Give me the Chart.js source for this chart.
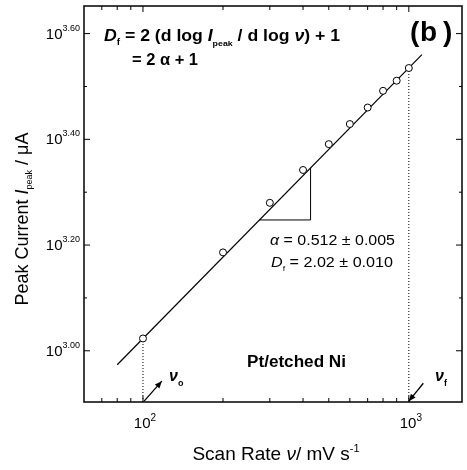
<!DOCTYPE html>
<html>
<head>
<meta charset="utf-8">
<script src="https://cdn.jsdelivr.net/npm/chart.js@4.4.1/dist/chart.umd.min.js"></script>
<style>
  html, body { margin: 0; padding: 0; background: #fff; }
  canvas { display: block; }
</style>
</head>
<body>
<canvas id="chart" width="467" height="470"></canvas>
<script>
// 測定値 (scan rate mV/s, peak current μA)
const scanRate = [100, 200, 300, 400, 500, 600, 700, 800, 900, 1000]
const peakCurrent = [1055, 1535, 1905, 2198, 2460, 2685, 2885, 3103, 3243, 3427]

// fitted line, slope triangle
const fitRate = [80, 1120]
const fitCurrent = [941, 3634]
const slopeRate = [274, 427, 427]
const slopeCurrent = [1768, 1768, 2218]

// dotted guides down to the axis (ν0, νf)
const guideRate = [100, 1000]
const guideCurrent = [1055, 3427]

// axis ranges and ticks
const xMin = 60, xMax = 1585
const yMin = 800, yMax = 4490
const xMajor = [100, 1000]
const xMajorLabels = ['2', '3']
const xMinor = [70, 80, 90, 200, 300, 400, 500, 600, 700, 800, 900]
const yMajorExp = [3.0, 3.2, 3.4, 3.6]
const yMajorLabels = ['3.00', '3.20', '3.40', '3.60']
const yMinorExp = [3.1, 3.3, 3.5]

const F = '"Liberation Sans", Arial, sans-serif'

const pts = (xs, ys) => xs.map((v, i) => ({ x: v, y: ys[i] }))

// 複数フォントのテキストを並べて描く (width指定で横に伸ばす)
function rich(ctx, x, y, segs, align, width) {
	let w = 0
	segs.forEach(s => { ctx.font = s.f; s.w = ctx.measureText(s.t).width; w += s.w })
	const k = width ? width / w : 1
	let cx = align === 'center' ? x - w * k / 2 : align === 'right' ? x - w * k : x
	segs.forEach(s => {
		ctx.font = s.f
		ctx.save()
		ctx.translate(cx, y + (s.dy || 0))
		ctx.scale(k, 1)
		ctx.fillText(s.t, 0, 0)
		ctx.restore()
		cx += s.w * k
	})
}

function arrow(ctx, x1, y1, x2, y2) {
	ctx.beginPath()
	ctx.moveTo(x1, y1)
	ctx.lineTo(x2, y2)
	ctx.stroke()
	const ang = Math.atan2(y2 - y1, x2 - x1)
	const L = 7, W = 3
	ctx.beginPath()
	ctx.moveTo(x2, y2)
	ctx.lineTo(x2 - L * Math.cos(ang) + W * Math.sin(ang), y2 - L * Math.sin(ang) - W * Math.cos(ang))
	ctx.lineTo(x2 - L * Math.cos(ang) - W * Math.sin(ang), y2 - L * Math.sin(ang) + W * Math.cos(ang))
	ctx.closePath()
	ctx.fill()
}

const framePlugin = {
	id: 'frame',
	afterDatasetsDraw(chart) {
		const { ctx, chartArea: a, scales: { x, y } } = chart
		ctx.save()
		ctx.strokeStyle = '#000'
		ctx.fillStyle = '#000'

		// 枠
		ctx.lineWidth = 1.5
		ctx.strokeRect(a.left, a.top, a.right - a.left, a.bottom - a.top)

		// 内向きの目盛り
		ctx.lineWidth = 1
		const vt = (px, len) => {
			ctx.beginPath()
			ctx.moveTo(px, a.bottom); ctx.lineTo(px, a.bottom - len)
			ctx.moveTo(px, a.top); ctx.lineTo(px, a.top + len)
			ctx.stroke()
		}
		const ht = (py, len) => {
			ctx.beginPath()
			ctx.moveTo(a.left, py); ctx.lineTo(a.left + len, py)
			ctx.moveTo(a.right, py); ctx.lineTo(a.right - len, py)
			ctx.stroke()
		}
		xMajor.forEach(v => vt(x.getPixelForValue(v), 6))
		xMinor.forEach(v => vt(x.getPixelForValue(v), 4))
		yMajorExp.forEach(e => ht(y.getPixelForValue(Math.pow(10, e)), 6))
		yMinorExp.forEach(e => ht(y.getPixelForValue(Math.pow(10, e)), 3))

		// 目盛りラベル
		ctx.textBaseline = 'alphabetic'
		xMajor.forEach((v, i) => {
			rich(ctx, x.getPixelForValue(v) + 2, a.bottom + 26, [
				{ t: '10', f: '15px ' + F },
				{ t: xMajorLabels[i], f: '10px ' + F, dy: -7 }
			], 'center')
		})
		yMajorExp.forEach((e, i) => {
			rich(ctx, a.left - 4, y.getPixelForValue(Math.pow(10, e)) + 5, [
				{ t: '10', f: '15px ' + F },
				{ t: yMajorLabels[i], f: '9px ' + F, dy: -8 }
			], 'right')
		})

		// 軸タイトル
		rich(ctx, 276, 460, [
			{ t: 'Scan Rate ', f: '19px ' + F },
			{ t: 'ν', f: 'italic 19px ' + F },
			{ t: '/ mV s', f: '19px ' + F },
			{ t: '-1', f: '11px ' + F, dy: -8 }
		], 'center')
		ctx.save()
		ctx.translate(28, 219)
		ctx.rotate(-Math.PI / 2)
		rich(ctx, 0, 0, [
			{ t: 'Peak Current ', f: '18px ' + F },
			{ t: 'I', f: 'italic 18px ' + F },
			{ t: 'peak', f: '9px ' + F, dy: 4 },
			{ t: ' / μA', f: '18px ' + F }
		], 'center')
		ctx.restore()

		// 式
		rich(ctx, 104, 41, [
			{ t: 'D', f: 'italic bold 16px ' + F },
			{ t: 'f', f: 'bold 9px ' + F, dy: 4 },
			{ t: ' = 2 (d log ', f: 'bold 16px ' + F },
			{ t: 'I', f: 'italic bold 16px ' + F },
			{ t: 'peak', f: 'bold 8px ' + F, dy: 5 },
			{ t: ' / d log ', f: 'bold 16px ' + F },
			{ t: 'ν', f: 'italic bold 16px ' + F },
			{ t: ') + 1', f: 'bold 16px ' + F }
		], 'left', 236)
		rich(ctx, 132, 65, [
			{ t: '= 2 α + 1', f: 'bold 16px ' + F }
		], 'left', 66)

		// (b)
		ctx.font = 'bold 28px ' + F
		ctx.fillText('(', 410, 41)
		ctx.fillText('b', 420, 41)
		ctx.fillText(')', 443, 41)

		// 傾き
		rich(ctx, 270, 245, [
			{ t: 'α', f: 'italic 15px ' + F },
			{ t: ' = 0.512 ± 0.005', f: '15px ' + F }
		], 'left', 125)
		rich(ctx, 271, 267, [
			{ t: 'D', f: 'italic 15px ' + F },
			{ t: 'f', f: '8px ' + F, dy: 4 },
			{ t: ' = 2.02 ± 0.010', f: '15px ' + F }
		], 'left', 122)

		ctx.font = 'bold 16px ' + F
		rich(ctx, 247, 367, [
			{ t: 'Pt/etched Ni', f: 'bold 16px ' + F }
		], 'left', 99)

		// ν0, νf の矢印
		ctx.lineWidth = 1.3
		arrow(ctx, x.getPixelForValue(101), y.getPixelForValue(803), x.getPixelForValue(117.7), y.getPixelForValue(876))
		arrow(ctx, x.getPixelForValue(1134), y.getPixelForValue(868), x.getPixelForValue(1000), y.getPixelForValue(803))
		rich(ctx, 169, 381, [
			{ t: 'ν', f: 'italic bold 16px ' + F },
			{ t: 'o', f: 'bold 9px ' + F, dy: 5 }
		])
		rich(ctx, 435, 381, [
			{ t: 'ν', f: 'italic bold 16px ' + F },
			{ t: 'f', f: 'bold 9px ' + F, dy: 5 }
		])

		ctx.restore()
	}
}

const chart = new Chart(document.getElementById('chart'), {
	type: 'scatter',
	data: {
		datasets: [
			{
				data: pts(scanRate, peakCurrent),
				pointStyle: 'circle',
				pointRadius: 3.5,
				pointBackgroundColor: '#fff',
				pointBorderColor: '#000',
				pointBorderWidth: 1,
				showLine: false
			},
			{
				data: pts(fitRate, fitCurrent),
				showLine: true,
				borderColor: '#000',
				borderWidth: 1.2,
				pointRadius: 0
			},
			{
				data: pts(slopeRate, slopeCurrent),
				showLine: true,
				borderColor: '#000',
				borderWidth: 1,
				pointRadius: 0
			},
			{
				data: [{ x: guideRate[0], y: yMin }, { x: guideRate[0], y: guideCurrent[0] }],
				showLine: true,
				borderColor: '#000',
				borderWidth: 1,
				borderDash: [1, 2],
				pointRadius: 0
			},
			{
				data: [{ x: guideRate[1], y: yMin }, { x: guideRate[1], y: guideCurrent[1] }],
				showLine: true,
				borderColor: '#000',
				borderWidth: 1,
				borderDash: [1, 2],
				pointRadius: 0
			}
		]
	},
	options: {
		responsive: false,
		animation: false,
		devicePixelRatio: 1,
		layout: { padding: { left: 84, top: 6, right: 1, bottom: 68 } },
		plugins: {
			legend: { display: false },
			tooltip: { enabled: false }
		},
		scales: {
			x: { type: 'logarithmic', min: xMin, max: xMax, display: false },
			y: { type: 'logarithmic', min: yMin, max: yMax, display: false }
		}
	},
	plugins: [framePlugin]
})
</script>
</body>
</html>
